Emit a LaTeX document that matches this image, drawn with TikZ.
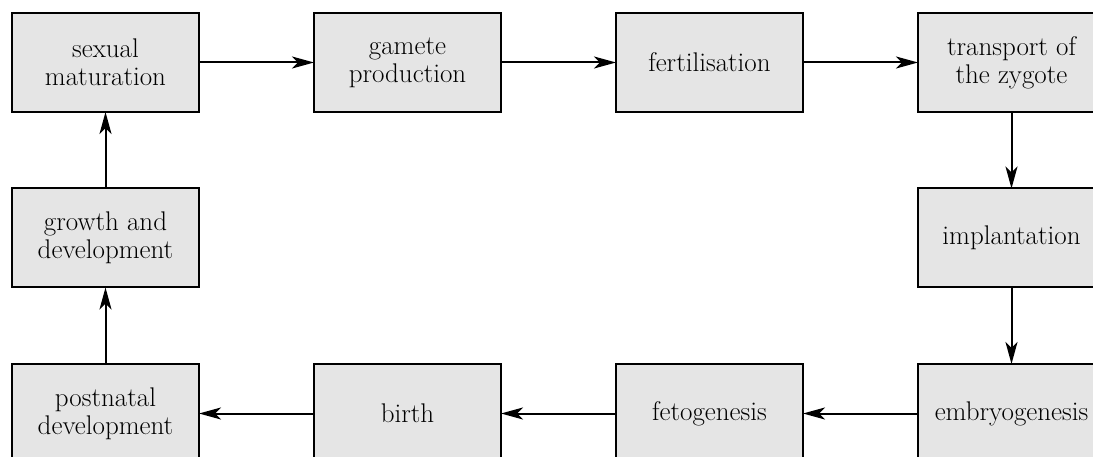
\documentclass[tikz,border=0pt]{standalone}
\usetikzlibrary{arrows.meta}
\definecolor{boxgray}{HTML}{E5E5E5}
\tikzset{
  stagebox/.style={draw=black, line width=2pt, fill=boxgray, minimum width=187pt, minimum height=99pt, align=center, inner sep=0pt, font=\fontsize{27}{28}\selectfont},
  flow/.style={line width=2pt, -{Stealth[length=22pt,width=12pt,inset=6pt]}, shorten >=-1pt}
}
\begin{document}
\begin{tikzpicture}[x=1pt,y=-1pt]
\useasboundingbox (0,0) rectangle (1093,457);
\node[stagebox] (sm) at (105.5,62.5) {sexual\\maturation};
\node[stagebox] (gp) at (407.5,62.5) {gamete\\production};
\node[stagebox] (fe) at (709.5,62.5) {fertilisation};
\node[stagebox] (tz) at (1011.5,62.5) {transport of\\the zygote};
\node[stagebox] (im) at (1011.5,238) {implantation};
\node[stagebox] (em) at (1011.5,413.5) {embryogenesis};
\node[stagebox] (fg) at (709.5,413.5) {fetogenesis};
\node[stagebox] (bi) at (407.5,413.5) {birth};
\node[stagebox] (pd) at (105.5,413.5) {postnatal\\development};
\node[stagebox] (gd) at (105.5,238) {growth and\\development};
\draw[flow] (sm) -- (gp);
\draw[flow] (gp) -- (fe);
\draw[flow] (fe) -- (tz);
\draw[flow] (tz) -- (im);
\draw[flow] (im) -- (em);
\draw[flow] (em) -- (fg);
\draw[flow] (fg) -- (bi);
\draw[flow] (bi) -- (pd);
\draw[flow] (pd) -- (gd);
\draw[flow] (gd) -- (sm);
\end{tikzpicture}
\end{document}
